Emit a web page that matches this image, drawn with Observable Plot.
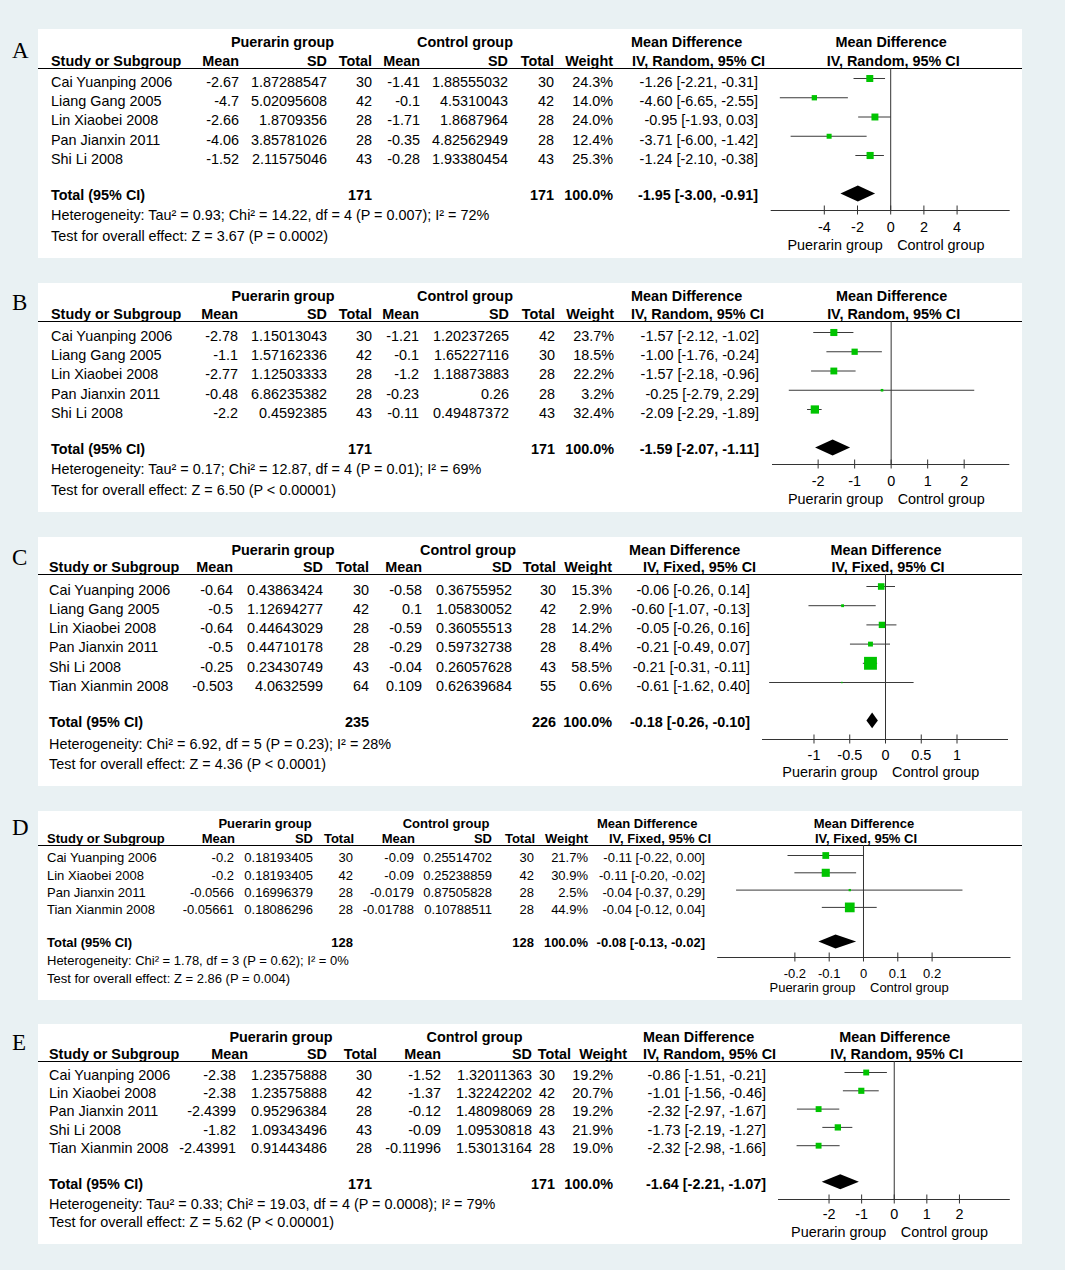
<!DOCTYPE html>
<html><head><meta charset="utf-8">
<script src="https://cdn.jsdelivr.net/npm/d3@7"></script>
<script src="https://cdn.jsdelivr.net/npm/@observablehq/plot@0.6"></script>
<style>
html,body{margin:0;padding:0;background:#e9f1f3;}
#root{position:relative;width:1065px;height:1270px;background:#e9f1f3;font-family:"Liberation Sans",Arial,sans-serif;color:#000;overflow:hidden}
.box{position:absolute;background:#fff}
.t{position:absolute;white-space:nowrap}
.hl{position:absolute;height:0;border-top:1px solid #000}
#root svg{position:absolute}
</style></head><body><div id="root"></div>
<script>
// ---------------- DATA ----------------
// Panel A
const studiesA = ["Cai Yuanping 2006","Liang Gang 2005","Lin Xiaobei 2008","Pan Jianxin 2011","Shi Li 2008"];
const pMeanA = ["-2.67","-4.7","-2.66","-4.06","-1.52"];
const pSdA = ["1.87288547","5.02095608","1.8709356","3.85781026","2.11575046"];
const pNA = [30,42,28,28,43];
const cMeanA = ["-1.41","-0.1","-1.71","-0.35","-0.28"];
const cSdA = ["1.88555032","4.5310043","1.8687964","4.82562949","1.93380454"];
const cNA = [30,42,28,28,43];
const weightA = [24.3,14.0,24.0,12.4,25.3];
const mdA = [-1.26,-4.60,-0.95,-3.71,-1.24];
const loA = [-2.21,-6.65,-1.93,-6.00,-2.10];
const hiA = [-0.31,-2.55,0.03,-1.42,-0.38];
const totalA = [171,171,-1.95,-3.00,-0.91];
const hetA = "Heterogeneity: Tau² = 0.93; Chi² = 14.22, df = 4 (P = 0.007); I² = 72%";
const testA = "Test for overall effect: Z = 3.67 (P = 0.0002)";
const ticksA = [-4,-2,0,2,4];

// Panel B
const studiesB = ["Cai Yuanping 2006","Liang Gang 2005","Lin Xiaobei 2008","Pan Jianxin 2011","Shi Li 2008"];
const pMeanB = ["-2.78","-1.1","-2.77","-0.48","-2.2"];
const pSdB = ["1.15013043","1.57162336","1.12503333","6.86235382","0.4592385"];
const pNB = [30,42,28,28,43];
const cMeanB = ["-1.21","-0.1","-1.2","-0.23","-0.11"];
const cSdB = ["1.20237265","1.65227116","1.18873883","0.26","0.49487372"];
const cNB = [42,30,28,28,43];
const weightB = [23.7,18.5,22.2,3.2,32.4];
const mdB = [-1.57,-1.00,-1.57,-0.25,-2.09];
const loB = [-2.12,-1.76,-2.18,-2.79,-2.29];
const hiB = [-1.02,-0.24,-0.96,2.29,-1.89];
const totalB = [171,171,-1.59,-2.07,-1.11];
const hetB = "Heterogeneity: Tau² = 0.17; Chi² = 12.87, df = 4 (P = 0.01); I² = 69%";
const testB = "Test for overall effect: Z = 6.50 (P < 0.00001)";
const ticksB = [-2,-1,0,1,2];

// Panel C
const studiesC = ["Cai Yuanping 2006","Liang Gang 2005","Lin Xiaobei 2008","Pan Jianxin 2011","Shi Li 2008","Tian Xianmin 2008"];
const pMeanC = ["-0.64","-0.5","-0.64","-0.5","-0.25","-0.503"];
const pSdC = ["0.43863424","1.12694277","0.44643029","0.44710178","0.23430749","4.0632599"];
const pNC = [30,42,28,28,43,64];
const cMeanC = ["-0.58","0.1","-0.59","-0.29","-0.04","0.109"];
const cSdC = ["0.36755952","1.05830052","0.36055513","0.59732738","0.26057628","0.62639684"];
const cNC = [30,42,28,28,43,55];
const weightC = [15.3,2.9,14.2,8.4,58.5,0.6];
const mdC = [-0.06,-0.60,-0.05,-0.21,-0.21,-0.61];
const loC = [-0.26,-1.07,-0.26,-0.49,-0.31,-1.62];
const hiC = [0.14,-0.13,0.16,0.07,-0.11,0.40];
const totalC = [235,226,-0.18,-0.26,-0.10];
const hetC = "Heterogeneity: Chi² = 6.92, df = 5 (P = 0.23); I² = 28%";
const testC = "Test for overall effect: Z = 4.36 (P < 0.0001)";
const ticksC = [-1,-0.5,0,0.5,1];

// Panel D
const studiesD = ["Cai Yuanping 2006","Lin Xiaobei 2008","Pan Jianxin 2011","Tian Xianmin 2008"];
const pMeanD = ["-0.2","-0.2","-0.0566","-0.05661"];
const pSdD = ["0.18193405","0.18193405","0.16996379","0.18086296"];
const pND = [30,42,28,28];
const cMeanD = ["-0.09","-0.09","-0.0179","-0.01788"];
const cSdD = ["0.25514702","0.25238859","0.87505828","0.10788511"];
const cND = [30,42,28,28];
const weightD = [21.7,30.9,2.5,44.9];
const mdD = [-0.11,-0.11,-0.04,-0.04];
const loD = [-0.22,-0.20,-0.37,-0.12];
const hiD = [0.00,-0.02,0.29,0.04];
const totalD = [128,128,-0.08,-0.13,-0.02];
const hetD = "Heterogeneity: Chi² = 1.78, df = 3 (P = 0.62); I² = 0%";
const testD = "Test for overall effect: Z = 2.86 (P = 0.004)";
const ticksD = [-0.2,-0.1,0,0.1,0.2];

// Panel E
const studiesE = ["Cai Yuanping 2006","Lin Xiaobei 2008","Pan Jianxin 2011","Shi Li 2008","Tian Xianmin 2008"];
const pMeanE = ["-2.38","-2.38","-2.4399","-1.82","-2.43991"];
const pSdE = ["1.23575888","1.23575888","0.95296384","1.09343496","0.91443486"];
const pNE = [30,42,28,43,28];
const cMeanE = ["-1.52","-1.37","-0.12","-0.09","-0.11996"];
const cSdE = ["1.32011363","1.32242202","1.48098069","1.09530818","1.53013164"];
const cNE = [30,42,28,43,28];
const weightE = [19.2,20.7,19.2,21.9,19.0];
const mdE = [-0.86,-1.01,-2.32,-1.73,-2.32];
const loE = [-1.51,-1.56,-2.97,-2.19,-2.98];
const hiE = [-0.21,-0.46,-1.67,-1.27,-1.66];
const totalE = [171,171,-1.64,-2.21,-1.07];
const hetE = "Heterogeneity: Tau² = 0.33; Chi² = 19.03, df = 4 (P = 0.0008); I² = 79%";
const testE = "Test for overall effect: Z = 5.62 (P < 0.00001)";
const ticksE = [-2,-1,0,1,2];

const methodRandom = "IV, Random, 95% CI";
const methodFixed = "IV, Fixed, 95% CI";

// ---------------- LAYOUT ----------------
const layouts = {
  A: {top:29,bottom:258,fs:14.4,letter:58,h1:47,h2:66,line:68,row0:87,pitch:19.25,sq0:78,total:200,het:220,test:241,
      xL:770.7,xR:1009.7,dom:[-7.2,7.2],axisY:210,tickLab:231,group:249,rmax:8.0,
      cols:[51,239,327,372,420,508,554,613,758],hdr2:[239,327,372,420,508,554,613],pg:282.5,cg:465,mdL:631,methodL:632},
  B: {top:283,bottom:512,fs:14.4,letter:310,h1:301,h2:319,line:321,row0:341,pitch:19.25,sq0:332,total:454,het:474,test:495,
      xL:772,xR:1009.3,dom:[-3.25,3.25],axisY:464,tickLab:485,group:503,rmax:8.2,
      cols:[51,238,327,372,419,509,555,614,759],hdr2:[238,327,372,419,509,555,614],pg:283,cg:465,mdL:631,methodL:631},
  C: {top:537,bottom:786,fs:14.4,letter:565,h1:555,h2:572,line:574,row0:595,pitch:19.2,sq0:586,total:727,het:749,test:769,
      xL:762,xR:1008,dom:[-1.72,1.72],axisY:739,tickLab:759,group:776,rmax:9.5,
      cols:[49,233,323,369,422,512,556,612,750],hdr2:[233,323,369,422,512,556,612],pg:283,cg:468,mdL:629,methodL:643},
  D: {top:811,bottom:1000,fs:13,letter:835,h1:828,h2:843,line:845,row0:862.5,pitch:17.3,sq0:855,total:947.5,het:965.5,test:983.5,
      xL:717.2,xR:1010.5,dom:[-0.425,0.43],axisY:957,tickLab:977,group:991,rmax:8.2,
      cols:[47,234,313,353,414,492,534,588,705],hdr2:[235,313,354,415,492,535,588],pg:265,cg:446,mdL:597,methodL:609},
  E: {top:1024,bottom:1244,fs:14.4,letter:1050,h1:1042,h2:1059,line:1061,row0:1080,pitch:18.3,sq0:1072,total:1189,het:1209,test:1227,
      xL:778,xR:1009.8,dom:[-3.55,3.56],axisY:1199,tickLab:1218,group:1236,rmax:7.6,
      cols:[49,236,327,372,441,532,555,613,766],hdr2:[248,327,377,441,532,571,627],pg:281,cg:474.5,mdL:643,methodL:643}
};

const GREEN = "#00c400";
const SANS = "'Liberation Sans', Arial, sans-serif";
const SERIF = "'Liberation Serif', 'Times New Roman', serif";
const root = document.getElementById("root");

function addText(str, x, base, opt = {}) {
  const fs = opt.fs || 14;
  const d = document.createElement("div");
  d.className = "t";
  d.textContent = str;
  d.style.fontSize = fs + "px";
  d.style.lineHeight = fs + "px";
  const k = opt.serif ? 0.8375 : 0.8465;
  d.style.top = (base - k * fs) + "px";
  d.style.left = x + "px";
  if (opt.serif) d.style.fontFamily = SERIF;
  if (opt.bold) d.style.fontWeight = "bold";
  if (opt.anchor === "end") d.style.transform = "translateX(-100%)";
  else if (opt.anchor === "middle") d.style.transform = "translateX(-50%)";
  root.appendChild(d);
}
function addBox(x, y, w, h) {
  const d = document.createElement("div");
  d.className = "box";
  Object.assign(d.style, {left: x + "px", top: y + "px", width: w + "px", height: h + "px"});
  root.appendChild(d);
}
function addLine(x, y, w) {
  const d = document.createElement("div");
  d.className = "hl";
  Object.assign(d.style, {left: x + "px", top: y + "px", width: w + "px"});
  root.appendChild(d);
}
const f2 = v => v.toFixed(2);
const ciText = (m, l, h) => `${f2(m)} [${f2(l)}, ${f2(h)}]`;

function buildPanel(letter, P, L) {
  const fs = L.fs;
  const n = P.studies.length;
  addBox(38, L.top, 984, L.bottom - L.top);
  addText(letter, 12, L.letter, {serif: true, fs: 23});

  // header row 1
  addText("Puerarin group", L.pg, L.h1, {anchor: "middle", bold: true, fs});
  addText("Control group", L.cg, L.h1, {anchor: "middle", bold: true, fs});
  addText("Mean Difference", L.mdL, L.h1, {bold: true, fs});
  // header row 2
  addText("Study or Subgroup", L.cols[0], L.h2, {bold: true, fs});
  ["Mean","SD","Total","Mean","SD","Total","Weight"].forEach((s, j) =>
    addText(s, L.hdr2[j], L.h2, {anchor: "end", bold: true, fs}));
  addText(P.method, L.methodL, L.h2, {bold: true, fs});
  addLine(38, L.line, 984);

  // study rows
  P.studies.forEach((s, i) => {
    const b = L.row0 + i * L.pitch;
    const vals = [s, P.pMean[i], P.pSd[i], String(P.pN[i]), P.cMean[i], P.cSd[i], String(P.cN[i]),
                  P.weight[i].toFixed(1) + "%", ciText(P.md[i], P.lo[i], P.hi[i])];
    vals.forEach((v, j) => addText(v, L.cols[j], b, {anchor: j === 0 ? "start" : "end", fs}));
  });
  // total row
  const [tp, tc, tm, tl, th] = P.total;
  addText("Total (95% CI)", L.cols[0], L.total, {bold: true, fs});
  addText(String(tp), L.cols[3], L.total, {anchor: "end", bold: true, fs});
  addText(String(tc), L.cols[6], L.total, {anchor: "end", bold: true, fs});
  addText("100.0%", L.cols[7], L.total, {anchor: "end", bold: true, fs});
  addText(ciText(tm, tl, th), L.cols[8], L.total, {anchor: "end", bold: true, fs});
  addText(P.het, L.cols[0], L.het, {fs});
  addText(P.test, L.cols[0], L.test, {fs});

  // forest plot
  const svgLeft = 700, svgW = 1022 - svgLeft, svgH = L.bottom - L.top;
  const toIdx = y => (y - L.sq0) / L.pitch;
  const headIdx = toIdx(L.line), axisIdx = toIdx(L.axisY);
  const rows = P.studies.map((s, i) => ({i, md: P.md[i], lo: P.lo[i], hi: P.hi[i], w: P.weight[i]}));
  const ti = n + 1, hh = 0.41;
  const diamond = [{x: tl, y1: ti, y2: ti}, {x: tm, y1: ti - hh, y2: ti + hh}, {x: th, y1: ti, y2: ti}];
  const tickHalf = 4.5 / L.pitch;
  const tickDy = (L.tickLab - 0.32 * fs) - L.axisY;
  const groupDy = (L.group - 0.32 * fs) - L.axisY;

  const chart = Plot.plot({
    width: svgW, height: svgH,
    margin: 0,
    style: {fontFamily: SANS, fontSize: fs + "px", background: "none", overflow: "visible", color: "#000"},
    x: {domain: L.dom, range: [L.xL - svgLeft, L.xR - svgLeft], axis: null},
    y: {domain: [0, ti], range: [L.sq0 - L.top, L.sq0 + ti * L.pitch - L.top], axis: null},
    r: {type: "sqrt", domain: [0, 100], range: [0, L.rmax]},
    marks: [
      Plot.ruleX([0], {y1: headIdx, y2: axisIdx, stroke: "#333", strokeWidth: 1}),
      Plot.ruleY(rows, {y: "i", x1: "lo", x2: "hi", stroke: "#3a3a3a", strokeWidth: 1}),
      Plot.dot(rows, {x: "md", y: "i", r: "w", symbol: "square", fill: GREEN}),
      Plot.areaY(diamond, {x: "x", y1: "y1", y2: "y2", fill: "#000"}),
      Plot.ruleY([axisIdx], {x1: L.dom[0], x2: L.dom[1], stroke: "#333"}),
      Plot.ruleX(P.ticks, {x: d => d, y1: axisIdx - tickHalf, y2: axisIdx + tickHalf, stroke: "#333"}),
      Plot.text(P.ticks, {x: d => d, y: axisIdx, text: d => String(d), dy: tickDy, fontSize: fs, fill: "#000"}),
      Plot.text(["Puerarin group"], {x: 0, y: axisIdx, text: d => d, textAnchor: "end", dx: -8, dy: groupDy, fontSize: fs, fill: "#000"}),
      Plot.text(["Control group"], {x: 0, y: axisIdx, text: d => d, textAnchor: "start", dx: 6.5, dy: groupDy, fontSize: fs, fill: "#000"})
    ]
  });
  chart.style.left = svgLeft + "px";
  chart.style.top = L.top + "px";
  root.appendChild(chart);

  const zeroPx = chart.scale("x").apply(0) + svgLeft;
  addText("Mean Difference", zeroPx + 1, L.h1, {anchor: "middle", bold: true, fs});
  addText(P.method, zeroPx + 3, L.h2, {anchor: "middle", bold: true, fs});
}

buildPanel("A", {studies: studiesA, pMean: pMeanA, pSd: pSdA, pN: pNA, cMean: cMeanA, cSd: cSdA, cN: cNA,
  weight: weightA, md: mdA, lo: loA, hi: hiA, total: totalA, het: hetA, test: testA, ticks: ticksA, method: methodRandom}, layouts.A);
buildPanel("B", {studies: studiesB, pMean: pMeanB, pSd: pSdB, pN: pNB, cMean: cMeanB, cSd: cSdB, cN: cNB,
  weight: weightB, md: mdB, lo: loB, hi: hiB, total: totalB, het: hetB, test: testB, ticks: ticksB, method: methodRandom}, layouts.B);
buildPanel("C", {studies: studiesC, pMean: pMeanC, pSd: pSdC, pN: pNC, cMean: cMeanC, cSd: cSdC, cN: cNC,
  weight: weightC, md: mdC, lo: loC, hi: hiC, total: totalC, het: hetC, test: testC, ticks: ticksC, method: methodFixed}, layouts.C);
buildPanel("D", {studies: studiesD, pMean: pMeanD, pSd: pSdD, pN: pND, cMean: cMeanD, cSd: cSdD, cN: cND,
  weight: weightD, md: mdD, lo: loD, hi: hiD, total: totalD, het: hetD, test: testD, ticks: ticksD, method: methodFixed}, layouts.D);
buildPanel("E", {studies: studiesE, pMean: pMeanE, pSd: pSdE, pN: pNE, cMean: cMeanE, cSd: cSdE, cN: cNE,
  weight: weightE, md: mdE, lo: loE, hi: hiE, total: totalE, het: hetE, test: testE, ticks: ticksE, method: methodRandom}, layouts.E);
</script></body></html>
